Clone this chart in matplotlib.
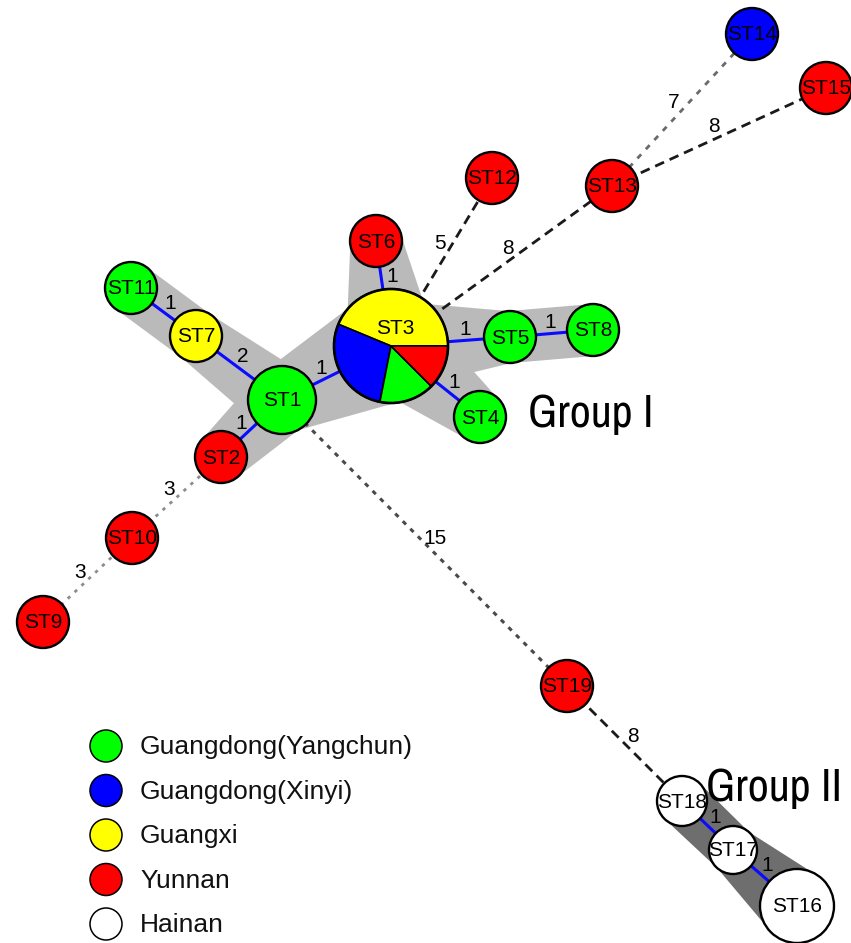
import matplotlib
matplotlib.use("Agg")

import matplotlib.pyplot as plt
import numpy as np
from matplotlib.patches import Circle, Polygon


# Sequence types and where their isolates came from
regions = [
    "Guangdong(Yangchun)",
    "Guangdong(Xinyi)",
    "Guangxi",
    "Yunnan",
    "Hainan",
]
region_colors = ["#00ff00", "#0000ff", "#ffff00", "#ff0000", "#ffffff"]

st_region = {
    "ST1": "Guangdong(Yangchun)",
    "ST2": "Yunnan",
    "ST4": "Guangdong(Yangchun)",
    "ST5": "Guangdong(Yangchun)",
    "ST6": "Yunnan",
    "ST7": "Guangxi",
    "ST8": "Guangdong(Yangchun)",
    "ST9": "Yunnan",
    "ST10": "Yunnan",
    "ST11": "Guangdong(Yangchun)",
    "ST12": "Yunnan",
    "ST13": "Yunnan",
    "ST14": "Guangdong(Xinyi)",
    "ST15": "Yunnan",
    "ST16": "Hainan",
    "ST17": "Hainan",
    "ST18": "Hainan",
    "ST19": "Yunnan",
}

# ST3 is shared between several regions
st3_regions = ["Guangxi", "Guangdong(Xinyi)", "Guangdong(Yangchun)", "Yunnan"]
st3_counts = [14, 9, 5, 4]

# Minimum spanning tree links (allelic differences)
edge_from = ["ST3", "ST3", "ST3", "ST5", "ST3", "ST1", "ST7", "ST1", "ST2",
             "ST10", "ST3", "ST3", "ST13", "ST13", "ST1", "ST19", "ST18",
             "ST17"]
edge_to = ["ST1", "ST6", "ST5", "ST8", "ST4", "ST7", "ST11", "ST2", "ST10",
           "ST9", "ST12", "ST13", "ST14", "ST15", "ST19", "ST18", "ST17",
           "ST16"]
edge_weight = [1, 1, 1, 1, 1, 2, 1, 1, 3, 3, 5, 8, 7, 8, 15, 8, 1, 1]

group_1_edges = [("ST3", "ST1"), ("ST3", "ST6"), ("ST3", "ST5"),
                 ("ST5", "ST8"), ("ST3", "ST4"), ("ST1", "ST7"),
                 ("ST7", "ST11"), ("ST1", "ST2")]
group_2_edges = [("ST18", "ST17"), ("ST17", "ST16")]

# Network layout (pixel space, y pointing down)
node_xy = {
    "ST1": (282, 400), "ST2": (221, 457), "ST3": (391, 346),
    "ST4": (480, 417), "ST5": (510, 337), "ST6": (376, 241),
    "ST7": (196, 336), "ST8": (593, 330), "ST9": (43, 622),
    "ST10": (132, 538), "ST11": (131, 288), "ST12": (492, 178),
    "ST13": (612, 186), "ST14": (752, 34), "ST15": (826, 88),
    "ST16": (797, 906), "ST17": (733, 850), "ST18": (682, 801),
    "ST19": (567, 686),
}
node_r = {name: 26 for name in node_xy}
node_r["ST1"] = 34
node_r["ST3"] = 57
node_r["ST16"] = 37
node_r["ST17"] = 24
node_r["ST18"] = 25

LABEL_FONT = ["Liberation Sans", "DejaVu Sans"]
GROUP_FONT = ["Liberation Sans Narrow", "Archivo Narrow", "DejaVu Sans"]


def edge_style(weight):
    """
    Line style for a link, chosen from its distance.
    """

    if weight <= 2:
        return dict(color="#0b0bff", linewidth=2.2, linestyle="-")
    if weight == 3:
        return dict(color="#8c8c8c", linewidth=2.0,
                    linestyle=(0, (1.2, 2.2)))
    if weight == 7:
        return dict(color="#6a6a6a", linewidth=2.0,
                    linestyle=(0, (2.0, 2.5)))
    if weight == 15:
        return dict(color="#4a4a4a", linewidth=2.2,
                    linestyle=(0, (1.5, 2.0)))
    return dict(color="#1a1a1a", linewidth=2.0, linestyle=(0, (3.5, 2.2)))


def add_band(ax, a, b, color):
    """
    Shaded band joining two nodes of one group.
    """

    pa = np.array(node_xy[a], dtype=float)
    pb = np.array(node_xy[b], dtype=float)
    d = (pb - pa) / np.linalg.norm(pb - pa)
    n = np.array([-d[1], d[0]])
    ra = min(node_r[a], 1.75 * node_r[b])
    rb = min(node_r[b], 1.75 * node_r[a])
    pts = [pa + n * ra, pb + n * rb, pb - n * rb, pa - n * ra]
    ax.add_patch(Polygon(pts, closed=True, facecolor=color,
                         edgecolor="none", zorder=1))


def main():
    fig = plt.figure(figsize=(8.51, 9.43), dpi=100)
    ax = fig.add_axes([0, 0, 1, 1])

    color_of = dict(zip(regions, region_colors))

    # Group shading
    for a, b in group_1_edges:
        add_band(ax, a, b, "#bababa")
    for a, b in group_2_edges:
        add_band(ax, a, b, "#6e6e6e")

    # Links and their distances
    for a, b, w in zip(edge_from, edge_to, edge_weight):
        pa = np.array(node_xy[a], dtype=float)
        pb = np.array(node_xy[b], dtype=float)
        ax.plot([pa[0], pb[0]], [pa[1], pb[1]], zorder=2,
                solid_capstyle="butt", **edge_style(w))

        d = (pb - pa) / np.linalg.norm(pb - pa)
        start = pa + d * node_r[a]
        end = pb - d * node_r[b]
        mid = (start + end) / 2
        n = np.array([-d[1], d[0]])
        if n[1] > 0:
            n = -n
        pos = mid + n * 11
        ax.text(pos[0], pos[1], str(w), fontsize=15, family=LABEL_FONT,
                ha="center", va="center", zorder=5)

    # Single-region nodes
    for name, region in st_region.items():
        x, y = node_xy[name]
        ax.add_patch(Circle((x, y), node_r[name],
                            facecolor=color_of[region],
                            edgecolor="black", linewidth=1.7, zorder=3))
        ax.text(x, y + 1, name, fontsize=15, family=LABEL_FONT,
                ha="center", va="center", zorder=4)

    # Mixed node ST3 as a pie
    x3, y3 = node_xy["ST3"]
    ax.pie(st3_counts, colors=[color_of[r] for r in st3_regions],
           center=(x3, y3), radius=node_r["ST3"], startangle=0,
           counterclock=False,
           wedgeprops=dict(edgecolor="black", linewidth=1.2, zorder=3))
    ax.add_patch(Circle((x3, y3), node_r["ST3"], facecolor="none",
                        edgecolor="black", linewidth=1.9, zorder=3.5))
    ax.text(x3 + 4, y3 - 17, "ST3", fontsize=15, family=LABEL_FONT,
            ha="center", va="center", zorder=4)

    # Group titles
    ax.text(528, 427, "Group I", fontsize=33, family=GROUP_FONT,
            fontstretch="condensed", ha="left", va="baseline", zorder=5)
    ax.text(706, 801, "Group II", fontsize=33, family=GROUP_FONT,
            fontstretch="condensed", ha="left", va="baseline", zorder=5)

    # Legend
    for i, (region, color) in enumerate(zip(regions, region_colors)):
        ly = 746 + i * 44.5
        ax.add_patch(Circle((106, ly), 16, facecolor=color,
                            edgecolor="black", linewidth=1.1, zorder=3))
        ax.text(140, ly + 1, region, fontsize=19, family=LABEL_FONT,
                ha="left", va="center", color="#111111")

    ax.set_xlim(0, 851)
    ax.set_ylim(943, 0)
    ax.axis("off")

    fig.savefig("out.png", dpi=100)
    plt.close(fig)


if __name__ == "__main__":
    main()
